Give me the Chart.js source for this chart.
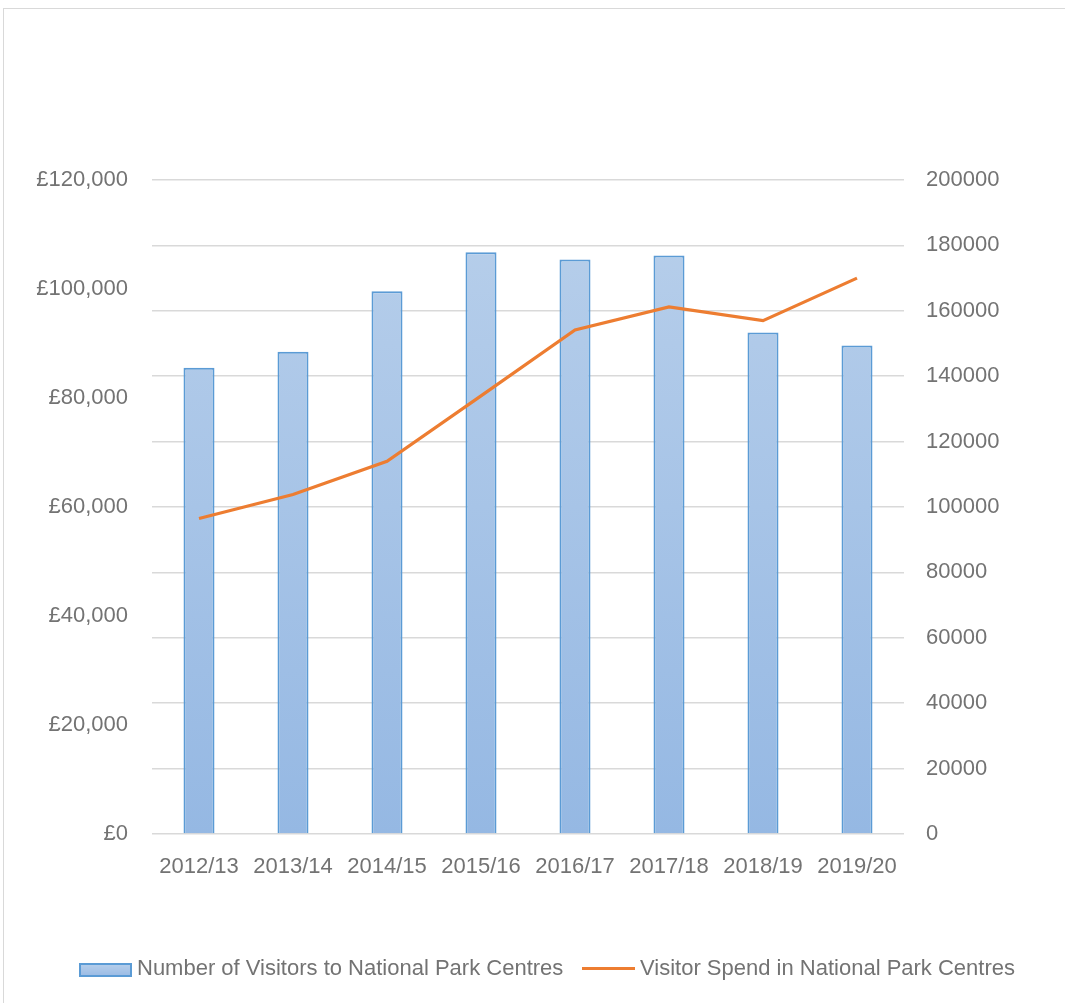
<!DOCTYPE html>
<html>
<head>
<meta charset="utf-8">
<script src="https://cdn.jsdelivr.net/npm/chart.js@4"></script>
<style>
  body { margin: 0; background: #fff; }
  #wrap { position: absolute; left: 0; top: 0; width: 1065px; height: 1003px; }
  #frame { position: absolute; left: 3px; top: 8px; width: 1100px; height: 1100px;
           border-left: 1px solid #d9d9d9; border-top: 1px solid #d9d9d9; }
  .lg { position: absolute; font-family: "Liberation Sans", Arial, sans-serif; font-size: 22px;
        line-height: 26px; color: #737373; white-space: nowrap; }
  .sw-bar { position: absolute; left: 79px; top: 963px; width: 49px; height: 10px;
            border: 2px solid #5b9bd5; background: linear-gradient(#b4cdea, #9dbde5); }
  .sw-line { position: absolute; left: 582px; top: 967px; width: 53px; height: 3px; background: #ed7d31; }
</style>
</head>
<body>
<div id="wrap">
  <div id="frame"></div>
  <canvas id="chart" width="1065" height="1003"></canvas>
  <div class="sw-bar"></div>
  <div class="lg" style="left:137px; top:955px;">Number of Visitors to National Park Centres</div>
  <div class="sw-line"></div>
  <div class="lg" style="left:640px; top:955px;">Visitor Spend in National Park Centres</div>
</div>
<script>
// data
const years = ['2012/13', '2013/14', '2014/15', '2015/16', '2016/17', '2017/18', '2018/19', '2019/20'];
const visitors = [142600, 147500, 166000, 177900, 175700, 176900, 153400, 149400];
const spend = [57900, 62300, 68400, 80400, 92500, 96700, 94200, 102000];

const tickFont = { family: '"Liberation Sans", Arial, sans-serif', size: 22 };
const grey = '#737373';

function barFill(ctx) {
  const area = ctx.chart.chartArea;
  if (!area) return '#a7c4e8';
  const g = ctx.chart.ctx.createLinearGradient(0, area.top, 0, area.bottom);
  g.addColorStop(0, '#b9d0eb');
  g.addColorStop(1, '#95b8e3');
  return g;
}

new Chart(document.getElementById('chart'), {
  type: 'bar',
  data: {
    labels: years,
    datasets: [
      {
        type: 'line',
        label: 'Visitor Spend in National Park Centres',
        data: spend,
        yAxisID: 'y',
        borderColor: '#ed7d31',
        borderWidth: 3.2,
        pointRadius: 0,
        tension: 0,
        order: 0
      },
      {
        label: 'Number of Visitors to National Park Centres',
        data: visitors,
        yAxisID: 'y1',
        backgroundColor: barFill,
        borderColor: '#5b9bd5',
        borderWidth: 2,
        barPercentage: 0.33,
        categoryPercentage: 1,
        order: 1
      }
    ]
  },
  options: {
    responsive: false,
    animation: false,
    layout: { padding: { top: 180, left: 0, right: 0, bottom: 0 } },
    plugins: { legend: { display: false }, tooltip: { enabled: false } },
    scales: {
      x: {
        grid: { display: false },
        border: { display: false },
        ticks: { color: grey, font: tickFont, padding: 12, maxRotation: 0 },
        afterFit: s => { s.height = 169; }
      },
      y: {
        position: 'left',
        min: 0, max: 120000,
        grid: { display: false },
        border: { display: false },
        ticks: {
          stepSize: 20000, color: grey, font: tickFont, padding: 16,
          callback: v => '£' + v.toLocaleString('en-GB')
        },
        afterFit: s => { s.width = 152; }
      },
      y1: {
        position: 'right',
        min: 0, max: 200000,
        grid: { color: '#d9d9d9', lineWidth: 1.5, drawTicks: false },
        border: { display: false },
        ticks: { stepSize: 20000, color: grey, font: tickFont, padding: 22, callback: v => String(v) },
        afterFit: s => { s.width = 161; }
      }
    }
  }
});
</script>
</body>
</html>
